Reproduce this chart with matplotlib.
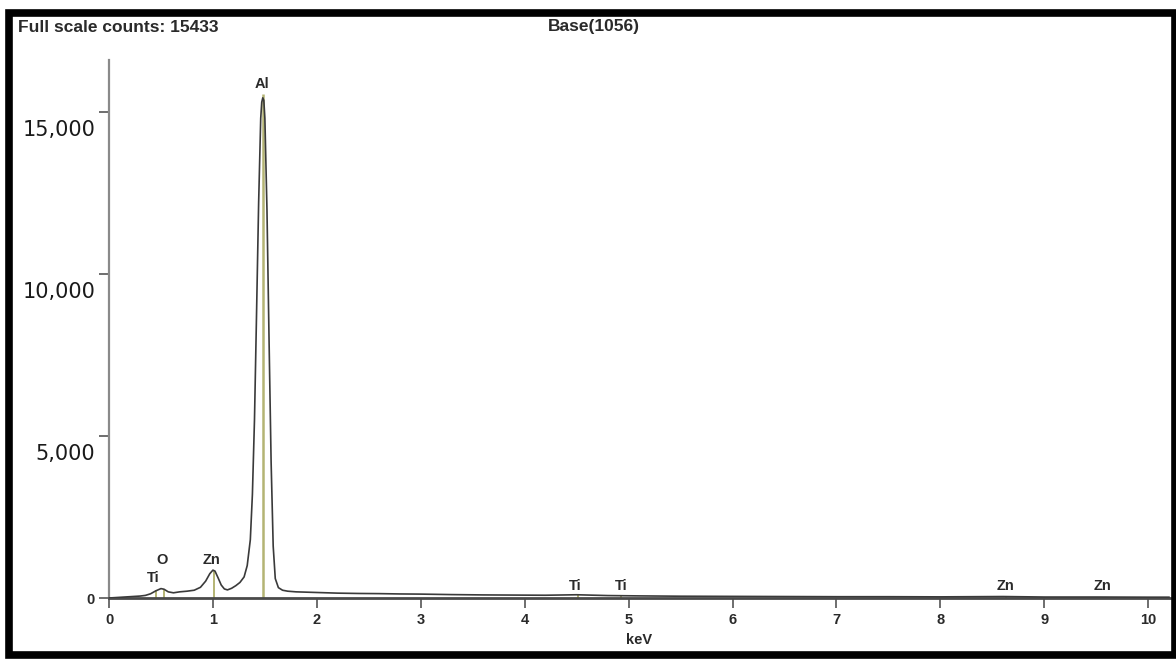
import matplotlib
matplotlib.use("Agg")
import matplotlib.pyplot as plt
from matplotlib.patches import Rectangle
from matplotlib.transforms import ScaledTranslation

# spectrum (keV, counts)
energy = [0.0, 0.1, 0.2, 0.3, 0.35, 0.40, 0.45, 0.50, 0.53, 0.57, 0.62, 0.68,
          0.75, 0.82, 0.88, 0.93, 0.97, 1.00, 1.02, 1.05, 1.08, 1.11, 1.14,
          1.18, 1.22, 1.26, 1.30, 1.33, 1.36, 1.38, 1.40, 1.42, 1.44, 1.46,
          1.47, 1.48, 1.49, 1.50, 1.52, 1.54, 1.56, 1.58, 1.60, 1.63, 1.67,
          1.72, 1.80, 1.90, 2.0, 2.2, 2.4, 2.6, 2.8, 3.0, 3.3, 3.6, 3.9, 4.2,
          4.5, 4.8, 5.1, 5.5, 6.0, 6.5, 7.0, 7.5, 8.0, 8.6, 9.0, 9.5, 10.0, 10.2]
counts = [0, 20, 40, 60, 80, 130, 220, 290, 270, 190, 160, 190,
          210, 240, 330, 520, 750, 860, 830, 620, 400, 280, 250,
          300, 380, 480, 650, 1000, 1800, 3200, 5500, 8800, 12200, 14800,
          15300, 15433, 15350, 14800, 12000, 8000, 4200, 1600, 600, 320, 240,
          210, 190, 180, 170, 150, 140, 135, 125, 120, 105, 95, 90, 85,
          100, 75, 65, 55, 50, 45, 40, 40, 35, 45, 30, 30, 25, 25]

# element marker lines and their labels
elements = ["Ti", "O", "Zn", "Al", "Ti", "Ti", "Zn", "Zn"]
line_kev = [0.452, 0.525, 1.012, 1.486, 4.51, 4.93, 8.63, 9.57]
line_height = [250, 280, 830, 15550, 100, 60, 40, 30]
label_kev = [0.43, 0.51, 0.99, 1.47, 4.49, 4.93, 8.63, 9.56]
label_counts = [620, 1170, 1170, 15850, 380, 380, 380, 380]

yticks = [0, 5000, 10000, 15000]
ytick_labels = ["0", "5,000", "10,000", "15,000"]
xticks = list(range(11))

small = dict(fontweight="bold", color="#2a2a2a", family="Liberation Sans")

fig = plt.figure(figsize=(11.76, 6.59), dpi=100)
ax = fig.add_axes([109 / 1176, 61 / 659, 1061 / 1176, 538 / 659])

for e, h in zip(line_kev, line_height):
    ax.vlines(e, 0, h, color="#b4b474", lw=1.8 if h > 5000 else 1.4, zorder=2)
ax.plot(energy, counts, color="#3a3a3a", lw=1.2, zorder=3)

for name, x, y in zip(elements, label_kev, label_counts):
    ax.text(x, y, name, ha="center", va="center", fontsize=10.5, **small)

ax.set_xlim(0, 10.21)
ax.set_ylim(0, 16600)
ax.set_xticks(xticks)
ax.set_xticklabels([str(t) for t in xticks], fontsize=10.5, **small)
ax.set_yticks(yticks)
ax.set_yticklabels(ytick_labels)
ax.tick_params(axis="x", length=7, width=1.2, color="#555555", pad=4)
ax.tick_params(axis="y", length=7, width=1.2, color="#555555", pad=3)

# the big y labels sit a little below their ticks in the original
for lbl, t in zip(ax.get_yticklabels(), yticks):
    if t == 0:
        lbl.set_fontsize(10.5)
        lbl.set_fontweight("bold")
        lbl.set_family("Liberation Sans")
        lbl.set_color("#2a2a2a")
    else:
        lbl.set_fontsize(15)
        lbl.set_color("#1a1a1a")
        lbl.set_transform(lbl.get_transform() +
                          ScaledTranslation(0, -16 / 100, fig.dpi_scale_trans))

ax.set_xlabel("keV", fontsize=10.5, labelpad=4, **small)

for s in ["top", "right"]:
    ax.spines[s].set_visible(False)
ax.spines["left"].set_color("#8a8a8a")
ax.spines["left"].set_linewidth(1.6)
ax.spines["bottom"].set_color("#4a4a4a")
ax.spines["bottom"].set_linewidth(2)

fig.text(18 / 1176, 1 - 27 / 659, "Full scale counts: 15433", fontsize=12.5,
         va="center", ha="left", **small)
fig.text(594 / 1176, 1 - 27 / 659, "Base(1056)", fontsize=12.5,
         va="center", ha="center", **small)

# black frame round the whole picture
fig.patches.append(Rectangle((9 / 1176, 1 - 655 / 659), 1166 / 1176, 642 / 659,
                             transform=fig.transFigure, fill=False,
                             edgecolor="black", lw=5.5, zorder=10))

fig.savefig("out.png", dpi=100)
